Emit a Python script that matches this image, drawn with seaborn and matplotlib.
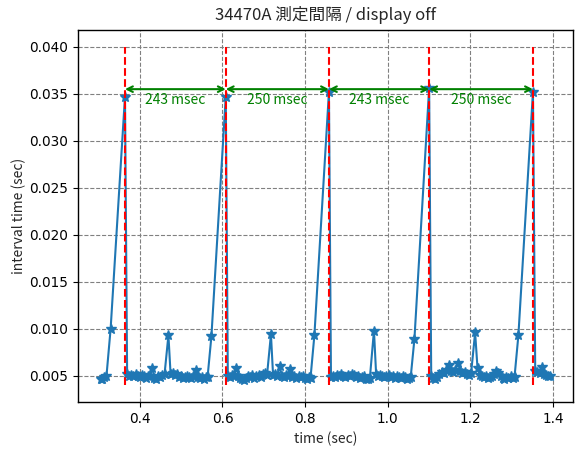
import numpy as np
import pandas as pd
import matplotlib
matplotlib.use("Agg")
import matplotlib.pyplot as plt
import seaborn as sns

start_time = 0.3003  # time before the first measured interval

seg0 = [0.0047, 0.0046, 0.0049, 0.0050, 0.0100, 0.0347]
seg1 = [0.0052, 0.0050, 0.0051, 0.0050, 0.0052, 0.0050, 0.0049, 0.0051, 0.0050, 0.0048,
        0.0050, 0.0050, 0.0058, 0.0048, 0.0047, 0.0050, 0.0049, 0.0051, 0.0052, 0.0093,
        0.0052, 0.0053, 0.0051, 0.0052, 0.0049, 0.0050, 0.0048, 0.0049, 0.0050, 0.0049,
        0.0048, 0.0050, 0.0056, 0.0049, 0.0048, 0.0049, 0.0047, 0.0049, 0.0049, 0.0092,
        0.0347]
seg2 = [0.0050, 0.0049, 0.0051, 0.0050, 0.0058, 0.0050, 0.0048, 0.0046, 0.0045, 0.0048,
        0.0050, 0.0049, 0.0051, 0.0048, 0.0050, 0.0051, 0.0049, 0.0052, 0.0053, 0.0051,
        0.0094, 0.0051, 0.0052, 0.0050, 0.0060, 0.0050, 0.0049, 0.0051, 0.0050, 0.0057,
        0.0049, 0.0050, 0.0048, 0.0050, 0.0049, 0.0050, 0.0048, 0.0047, 0.0049, 0.0048,
        0.0093, 0.0352]
seg3 = [0.0049, 0.0050, 0.0049, 0.0051, 0.0050, 0.0052, 0.0050, 0.0049, 0.0051, 0.0050,
        0.0052, 0.0051, 0.0049, 0.0050, 0.0048, 0.0049, 0.0050, 0.0047, 0.0046, 0.0048,
        0.0098, 0.0052, 0.0050, 0.0051, 0.0050, 0.0049, 0.0050, 0.0051, 0.0049, 0.0050,
        0.0048, 0.0050, 0.0049, 0.0048, 0.0050, 0.0049, 0.0047, 0.0048, 0.0049, 0.0089,
        0.0356]
seg4 = [0.0050, 0.0048, 0.0047, 0.0049, 0.0052, 0.0054, 0.0053, 0.0056, 0.0061, 0.0055,
        0.0054, 0.0056, 0.0063, 0.0055, 0.0053, 0.0054, 0.0052, 0.0051, 0.0053, 0.0096,
        0.0058, 0.0051, 0.0050, 0.0049, 0.0050, 0.0048, 0.0049, 0.0050, 0.0052, 0.0055,
        0.0053, 0.0050, 0.0048, 0.0047, 0.0049, 0.0048, 0.0050, 0.0048, 0.0049, 0.0093,
        0.0352]
seg5 = [0.0055, 0.0054, 0.0053, 0.0059, 0.0052, 0.0051, 0.0050, 0.0050]

interval_labels = ["243 msec", "250 msec", "243 msec", "250 msec"]
title_text = "34470A 測定間隔 / display off"
x_label = "time (sec)"
y_label = "interval time (sec)"
x_ticks = [0.4, 0.6, 0.8, 1.0, 1.2, 1.4]
y_ticks = [0.005, 0.010, 0.015, 0.020, 0.025, 0.030, 0.035, 0.040]

# ---- build table: time axis is the running sum of measured intervals ----
intervals = np.array(seg0 + seg1 + seg2 + seg3 + seg4 + seg5)
times = start_time + np.cumsum(intervals)
df = pd.DataFrame({"time": times, "interval": intervals})

# display-update spikes (the long intervals)
spike_idx = np.where(intervals > 0.03)[0]
spike_times = times[spike_idx]

# ---- plotting ----
sns.set_style("ticks")
plt.rcParams["font.family"] = ["Noto Sans CJK JP", "DejaVu Sans"]
plt.rcParams["axes.unicode_minus"] = False

fig = plt.figure(figsize=(5.83, 4.53), dpi=100)
ax = fig.add_axes([0.1338, 0.1126, 0.9828 - 0.1338, 0.9338 - 0.1126])

blue = "#1f77b4"
sns.lineplot(data=df, x="time", y="interval", ax=ax, color=blue, marker="*",
             markersize=7, markeredgecolor=blue, markeredgewidth=1.0,
             linewidth=1.5, zorder=3)

ax.vlines(spike_times, 0.004, 0.040, colors="red", linestyles="--",
          linewidth=1.5, zorder=4)

arrow_y = 0.0355
text_y = 0.0344
for i, lab in enumerate(interval_labels):
    x0, x1 = spike_times[i], spike_times[i + 1]
    ax.annotate("", xy=(x1, arrow_y), xytext=(x0, arrow_y),
                arrowprops=dict(arrowstyle="<->", color="green", lw=1.5,
                                shrinkA=0, shrinkB=0), zorder=5)
    ax.text((x0 + x1) / 2, text_y, lab, color="green", ha="center",
            va="center", fontsize=10)

ax.grid(True, color="gray", linestyle="--", linewidth=0.8)
ax.set_axisbelow(True)
for s in ax.spines.values():
    s.set_visible(True)
    s.set_color("black")
    s.set_linewidth(1.0)
ax.tick_params(direction="out", length=3.5, width=0.8, labelsize=10, colors="black")

ax.set_title(title_text, fontsize=12, pad=7)
ax.set_xlabel(x_label, fontsize=10)
ax.set_ylabel(y_label, fontsize=10, labelpad=2.5)
ax.set_xticks(x_ticks)
ax.set_yticks(y_ticks)
ax.yaxis.set_major_formatter(matplotlib.ticker.FormatStrFormatter("%.3f"))
ax.xaxis.set_major_formatter(matplotlib.ticker.FormatStrFormatter("%.1f"))
for lbl in ax.get_xticklabels() + ax.get_yticklabels():
    lbl.set_fontfamily(["DejaVu Sans"])
    lbl.set_fontsize(9.8)

fig.savefig("out.png", dpi=100)
